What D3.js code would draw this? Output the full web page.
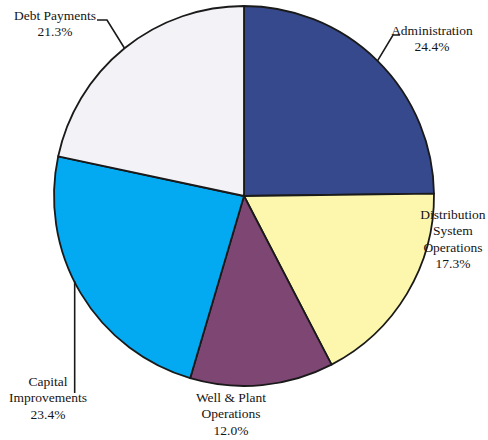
<!DOCTYPE html>
<html>
<head>
<meta charset="utf-8">
<script src="https://cdn.jsdelivr.net/npm/d3@7"></script>
<style>
  html, body { margin: 0; padding: 0; background: #ffffff; }
  svg { display: block; }
</style>
</head>
<body>
<svg id="chart" width="488" height="440"></svg>
<script>
// Budget shares by category, clockwise from 12 o'clock
const categories = ["Administration", "Distribution System Operations", "Well & Plant Operations", "Capital Improvements", "Debt Payments"];
const shares = [24.4, 17.3, 12.0, 23.4, 21.3];
const sliceColors = ["#36498c", "#fcf7ad", "#7d4673", "#03a9f1", "#f3f3f7"];
// Label text lines (name lines followed by the percentage)
const labelLines = [
  ["Administration"],
  ["Distribution", "System", "Operations"],
  ["Well & Plant", "Operations"],
  ["Capital", "Improvements"],
  ["Debt Payments"]
];

const svg = d3.select("#chart");
const cx = 244, cy = 196, radius = 190;

const pie = d3.pie().sort(null).value(d => d.value);
const arcs = pie(categories.map((c, i) => ({ name: c, value: shares[i], color: sliceColors[i], lines: labelLines[i] })));
const arc = d3.arc().innerRadius(0).outerRadius(radius);

const g = svg.append("g").attr("transform", `translate(${cx},${cy})`);

g.selectAll("path.slice")
  .data(arcs)
  .join("path")
  .attr("class", "slice")
  .attr("d", arc)
  .attr("fill", d => d.data.color)
  .attr("stroke", "#1a1a1a")
  .attr("stroke-width", 1.8)
  .attr("stroke-linejoin", "round");

// point on the rim at the middle of a slice
function rimPoint(d) {
  const a = (d.startAngle + d.endAngle) / 2;
  return [radius * Math.sin(a), -radius * Math.cos(a)];
}

// label placement (relative to pie centre) and leader routing
const labelLayout = {
  "Administration": { x: 188, y: -161, leader: p => [p, [149, -161], [156, -161]] },
  "Distribution System Operations": { x: 209, y: 23 },
  "Well & Plant Operations": { x: -13, y: 206 },
  "Capital Improvements": { x: -196, y: 190, leader: p => {
      const lx = p[0] - 6;
      return [[lx, Math.sqrt(radius * radius - lx * lx) - 1], [lx, 197]];
    } },
  "Debt Payments": { x: -189, y: -176, leader: p => [p, [-137, -176], [-147, -176]] }
};

const line = d3.line();
arcs.forEach(d => {
  const lay = labelLayout[d.data.name];
  if (lay.leader) {
    g.append("path")
      .attr("d", line(lay.leader(rimPoint(d))))
      .attr("fill", "none")
      .attr("stroke", "#1a1a1a")
      .attr("stroke-width", 1.6);
  }
  const t = g.append("text")
    .attr("text-anchor", "middle")
    .attr("font-family", "'Liberation Serif', 'Times New Roman', Times, serif")
    .attr("font-size", 13.5)
    .attr("fill", "#151515")
    .attr("x", lay.x)
    .attr("y", lay.y);
  const lines = d.data.lines.concat([d3.format(".1f")(d.data.value) + "%"]);
  lines.forEach((s, i) => {
    t.append("tspan")
      .attr("x", lay.x)
      .attr("dy", i === 0 ? 0 : 16.3)
      .text(s);
  });
});
</script>
</body>
</html>
